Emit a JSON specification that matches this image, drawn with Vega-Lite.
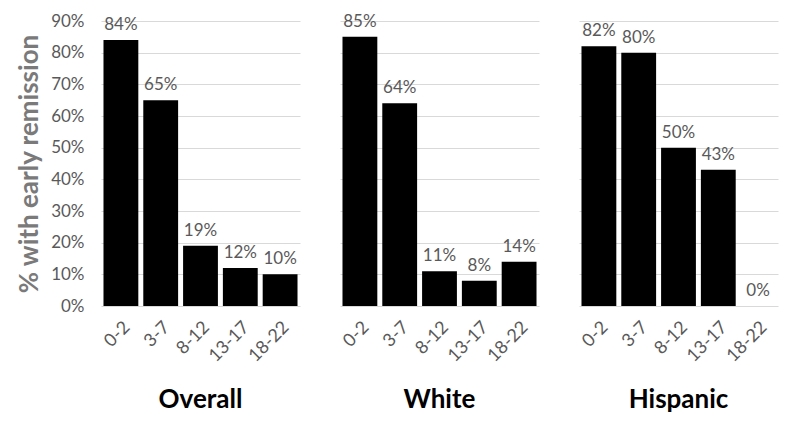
{
  "$schema": "https://vega.github.io/schema/vega-lite/v6.json",
  "background": "white",
  "padding": {"left": 16, "top": 12, "right": 16, "bottom": 5},
  "data": {"values": [
    {"group": "Overall", "age": "0-2", "value": 0.84},
    {"group": "Overall", "age": "3-7", "value": 0.65},
    {"group": "Overall", "age": "8-12", "value": 0.19},
    {"group": "Overall", "age": "13-17", "value": 0.12},
    {"group": "Overall", "age": "18-22", "value": 0.10},
    {"group": "White", "age": "0-2", "value": 0.85},
    {"group": "White", "age": "3-7", "value": 0.64},
    {"group": "White", "age": "8-12", "value": 0.11},
    {"group": "White", "age": "13-17", "value": 0.08},
    {"group": "White", "age": "18-22", "value": 0.14},
    {"group": "Hispanic", "age": "0-2", "value": 0.82},
    {"group": "Hispanic", "age": "3-7", "value": 0.80},
    {"group": "Hispanic", "age": "8-12", "value": 0.50},
    {"group": "Hispanic", "age": "13-17", "value": 0.43},
    {"group": "Hispanic", "age": "18-22", "value": 0.0}
  ]},
  "facet": {
    "column": {
      "field": "group", "type": "nominal",
      "sort": ["Overall", "White", "Hispanic"],
      "header": {
        "title": null, "labelOrient": "bottom", "labelFont": "Lato",
        "labelFontSize": 26, "labelFontWeight": "bold", "labelColor": "black",
        "labelPadding": 22
      }
    }
  },
  "spacing": 40,
  "spec": {
    "width": 199,
    "height": 285,
    "encoding": {
      "x": {
        "field": "age", "type": "ordinal",
        "sort": ["0-2", "3-7", "8-12", "13-17", "18-22"],
        "scale": {"paddingInner": 0.125, "paddingOuter": 0.0625},
        "axis": {"title": null, "labelAngle": -45, "ticks": false, "domain": false, "labelPadding": 12, "labelFontSize": 18}
      },
      "y": {
        "field": "value", "type": "quantitative",
        "scale": {"domain": [0, 0.9], "nice": false},
        "axis": {
          "values": [0, 0.1, 0.2, 0.3, 0.4, 0.5, 0.6, 0.7, 0.8, 0.9],
          "format": ".0%", "title": "% with early remission",
          "titleFontSize": 26, "titleFontWeight": "bold", "titleColor": "#7a7a7a",
          "titlePadding": 8, "labelPadding": 17, "labelFontSize": 17
        }
      }
    },
    "layer": [
      {"mark": {"type": "bar", "color": "black"}},
      {
        "mark": {"type": "text", "baseline": "bottom", "dy": -6, "font": "Lato", "fontSize": 17, "color": "#595959"},
        "encoding": {"text": {"field": "value", "type": "quantitative", "format": ".0%"}}
      }
    ]
  },
  "config": {
    "view": {"stroke": null},
    "font": "Lato",
    "axis": {
      "labelFont": "Lato", "labelColor": "#595959",
      "titleFont": "Lato", "gridColor": "#d9d9d9", "domain": false, "ticks": false
    }
  }
}
